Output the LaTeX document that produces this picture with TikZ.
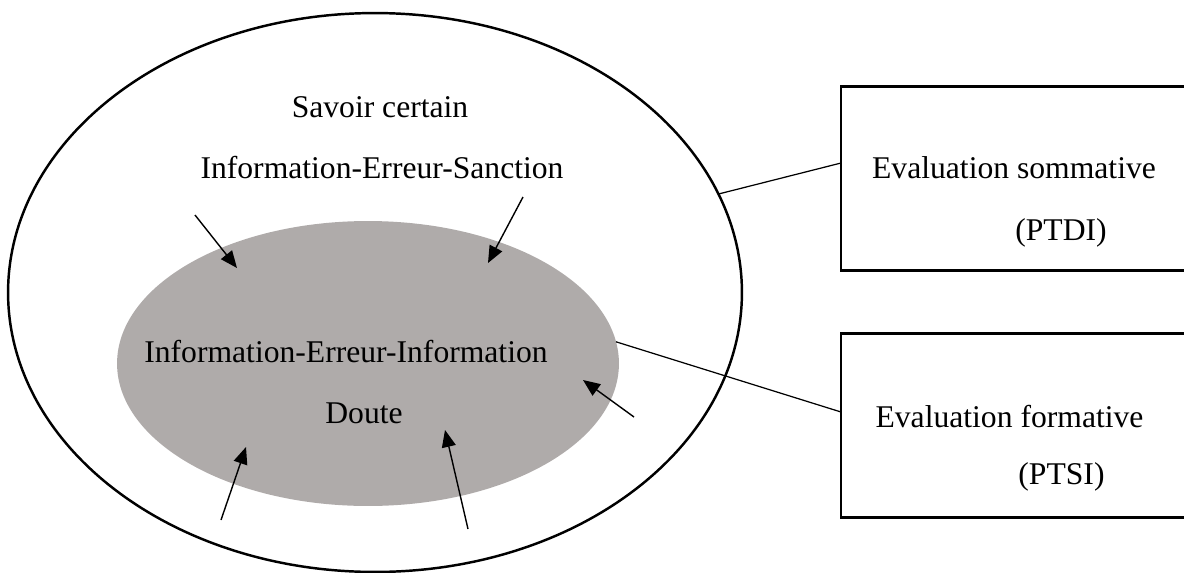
\documentclass[tikz,border=0pt]{standalone}
\usepackage{fontspec}
\setmainfont{Liberation Serif}
\usetikzlibrary{positioning, arrows.meta, calc, shapes.geometric}
\definecolor{doubtgray}{RGB}{175,171,170}

\begin{document}
\begin{tikzpicture}[
  x=0.02cm, y=-0.02cm,
  font=\fontsize{18}{22}\selectfont,
  % Zones (ellipses)
  zone/.style={draw, ellipse, inner sep=0pt, outer sep=0pt, line width=1.4pt},
  doubtzone/.style={ellipse, fill=doubtgray, inner sep=0pt, outer sep=0pt},
  % Evaluation boxes
  evalbox/.style={draw, rectangle, line width=1.4pt, minimum width=7.2cm, minimum height=3.68cm, inner sep=0pt, outer sep=0pt},
  txt/.style={inner sep=0pt},
  % Lines
  link/.style={draw, line width=0.7pt},
  push/.style={draw, line width=0.8pt, -{Triangle[length=0.34cm, width=0.28cm]}}
]
  \useasboundingbox (0,0) rectangle (1184,572);

  % ==========================================
  % ZONES
  % ==========================================
  \node[doubtzone, minimum width=10.04cm, minimum height=5.7cm] (inner) at (368,363.5) {};
  \node[zone, minimum width=14.68cm, minimum height=11.18cm] (outer) at (375,292.5) {};

  \node[txt] (certain) at (380,107) {Savoir certain};
  \node[txt] (ies) at (382,168) {Information-Erreur-Sanction};
  \node[txt] (iei) at (346,352) {Information-Erreur-Information};
  \node[txt] (doute) at (364,413) {Doute};

  % ==========================================
  % EVALUATION BOXES
  % ==========================================
  \node[evalbox] (sommbox) at (1021,178.5) {};
  \node[evalbox] (formbox) at (1021,425.5) {};

  \node[txt] (somm) at (1014,168) {Evaluation sommative};
  \node[txt] (ptdi) at (1061,233) {(PTDI)};
  \node[txt] (form) at (1009.5,417) {Evaluation formative};
  \node[txt] (ptsi) at (1061.5,477) {(PTSI)};

  \draw[link] (outer.16) -- ([yshift=0.31cm]sommbox.west);
  \draw[link] (inner.5) -- ([yshift=0.27cm]formbox.west);

  % ==========================================
  % ARROWS INTO THE DOUBT ZONE
  % ==========================================
  \coordinate (in1) at (195,215);  \coordinate (tip1) at (237,268);
  \coordinate (in2) at (523,197);  \coordinate (tip2) at (488,263);
  \coordinate (in3) at (634,417);  \coordinate (tip3) at (583,380);
  \coordinate (in4) at (221,520);  \coordinate (tip4) at (246,447);
  \coordinate (in5) at (468,529);  \coordinate (tip5) at (445,430);

  \draw[push] (in1) -- (tip1);
  \draw[push] (in2) -- (tip2);
  \draw[push] (in3) -- (tip3);
  \draw[push] (in4) -- (tip4);
  \draw[push] (in5) -- (tip5);

\end{tikzpicture}
\end{document}
